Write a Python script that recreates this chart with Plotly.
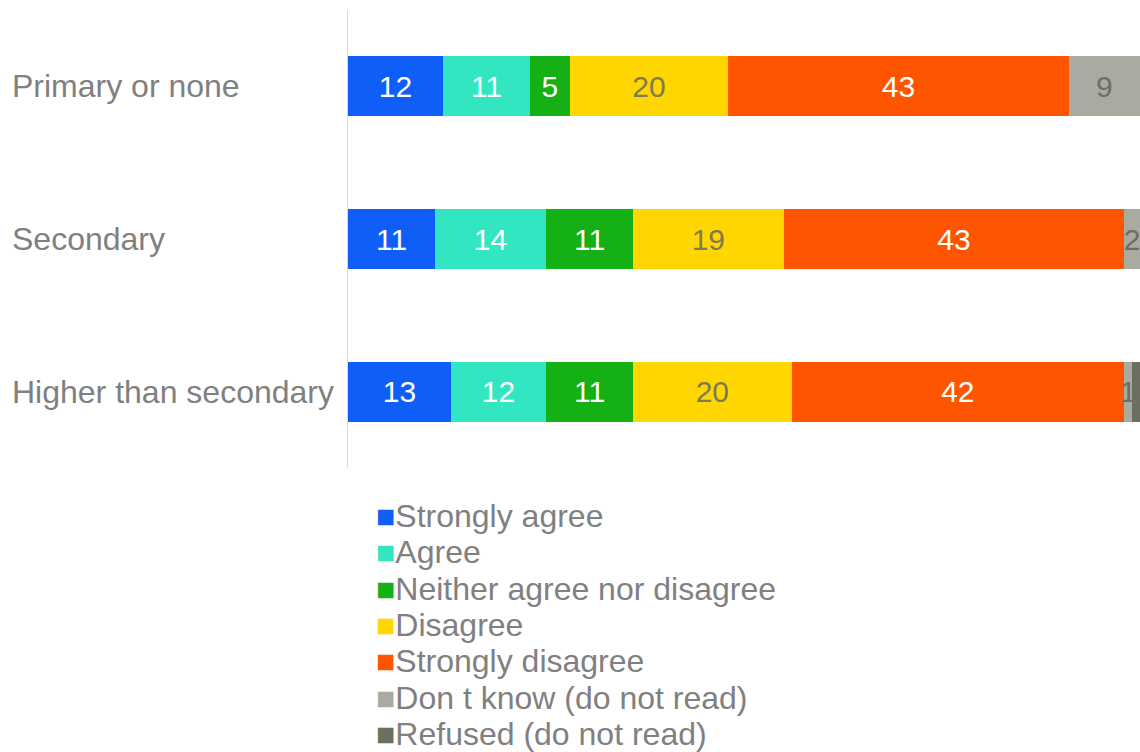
import plotly.graph_objects as go

# Survey responses by education level (percent)
categories = ["Primary or none", "Secondary", "Higher than secondary"]
series_names = [
    "Strongly agree",
    "Agree",
    "Neither agree nor disagree",
    "Disagree",
    "Strongly disagree",
    "Don t know (do not read)",
    "Refused (do not read)",
]
strongly_agree = [12, 11, 13]
agree = [11, 14, 12]
neither = [5, 11, 11]
disagree = [20, 19, 20]
strongly_disagree = [43, 43, 42]
dont_know = [9, 2, 1]
refused = [1, 1, 1]

series_values = [strongly_agree, agree, neither, disagree,
                 strongly_disagree, dont_know, refused]
show_labels = [True, True, True, True, True, True, False]
colors = ["#0f5ef7", "#33e6c2", "#14b014", "#ffd600",
          "#ff5500", "#a9aba0", "#6b6f5f"]
text_colors = ["#ffffff", "#ffffff", "#ffffff", "#7f7a50",
               "#ffffff", "#6e6e66", "#ffffff"]

FONT = "Liberation Sans, Arial, sans-serif"
LABEL_GRAY = "#808080"

W, H = 1140, 752
plot_left, plot_top, plot_bottom = 348, 10, 468
plot_w = W - plot_left
plot_h = plot_bottom - plot_top

fig = go.Figure()

for name, vals, col, tcol, lab in zip(series_names, series_values, colors,
                                       text_colors, show_labels):
    fig.add_trace(go.Bar(
        y=categories,
        x=vals,
        orientation="h",
        name=name,
        marker=dict(color=col, line=dict(width=0)),
        text=[str(v) for v in vals] if lab else None,
        textposition="inside",
        insidetextanchor="middle",
        textfont=dict(family=FONT, size=30, color=tcol),
        constraintext="none",
        showlegend=False,
        hoverinfo="x+name",
    ))

# Left-aligned category labels
for cat in categories:
    fig.add_annotation(
        x=(10 - plot_left) / plot_w, xref="paper", xanchor="left",
        y=cat, yref="y", yanchor="middle",
        text=cat, showarrow=False,
        font=dict(family=FONT, size=32, color=LABEL_GRAY),
    )

# Legend: one row per series, square swatch followed by the series name
legend_left = 374
legend_first_row = 516
legend_row_step = 36.3
for i, (name, col) in enumerate(zip(series_names, colors)):
    row_y = legend_first_row + i * legend_row_step
    fig.add_annotation(
        x=(legend_left - plot_left) / plot_w, xref="paper", xanchor="left",
        y=(plot_bottom - row_y) / plot_h, yref="paper", yanchor="middle",
        text=f"<span style='color:{col}'>■</span>{name}",
        showarrow=False,
        align="left",
        font=dict(family=FONT, size=32, color=LABEL_GRAY),
    )

fig.update_layout(
    width=W,
    height=H,
    barmode="stack",
    bargap=0.607,
    plot_bgcolor="white",
    paper_bgcolor="white",
    margin=dict(l=plot_left, r=0, t=plot_top, b=H - plot_bottom),
    font=dict(family=FONT, color=LABEL_GRAY),
    uniformtext=dict(minsize=30, mode="show"),
    xaxis=dict(range=[0, 100], showgrid=False, zeroline=False,
               showticklabels=False, showline=False, fixedrange=True),
    yaxis=dict(autorange="reversed", showgrid=False, zeroline=False,
               showticklabels=False, showline=True, linecolor="#d9d9d9",
               linewidth=1, ticks=""),
    showlegend=False,
)

fig.write_html("out.html")
